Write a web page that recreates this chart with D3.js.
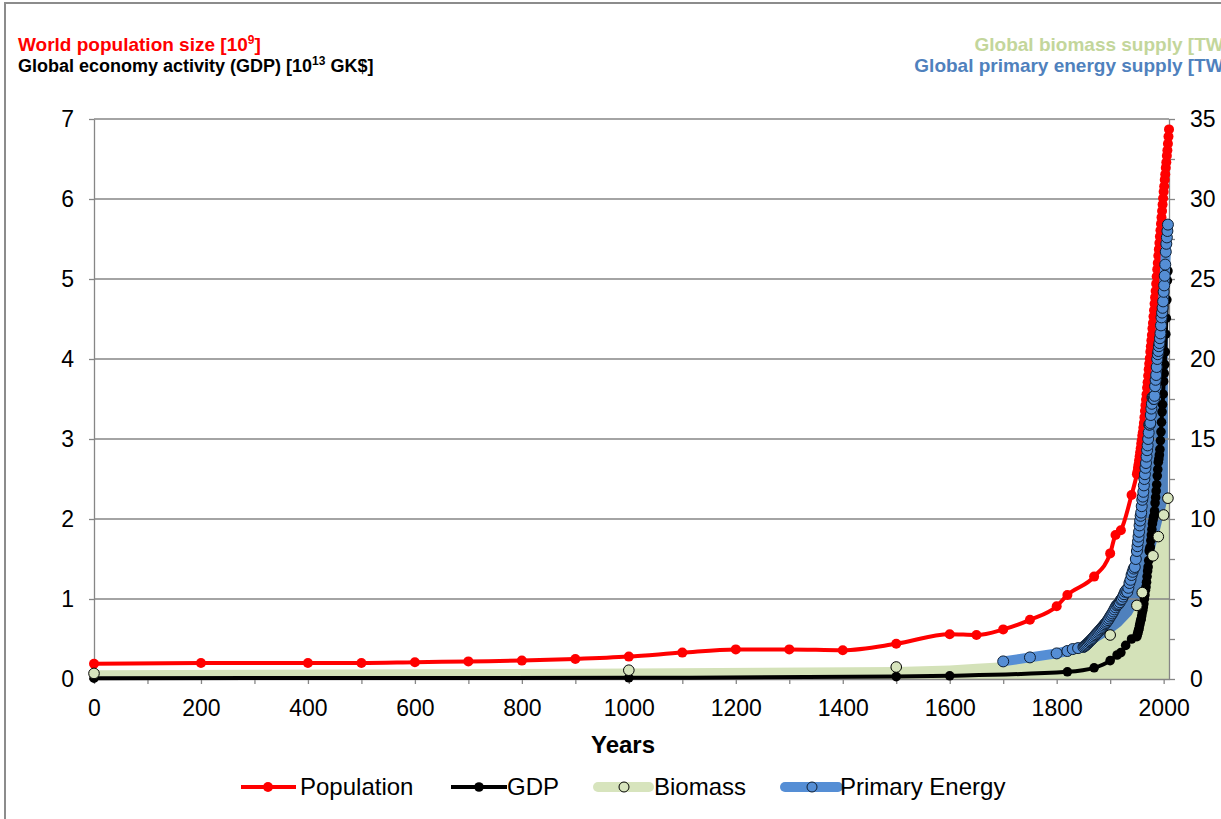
<!DOCTYPE html>
<html>
<head>
<meta charset="utf-8">
<script src="https://cdn.jsdelivr.net/npm/d3@7"></script>
<style>
  body { margin: 0; background: #fff; }
  svg { display: block; font-family: "Liberation Sans", Arial, sans-serif; }
</style>
</head>
<body>
<div id="graf"></div>
<script>
// Población mundial [10^9]
const popYears = [0, 200, 400, 500, 600, 700, 800, 900, 1000, 1100, 1200, 1300, 1400, 1500, 1600, 1650, 1700, 1750, 1800, 1820, 1870, 1900, 1910, 1920, 1940,
  1950, 1951, 1952, 1953, 1954, 1955, 1956, 1957, 1958, 1959, 1960, 1961, 1962, 1963, 1964, 1965, 1966, 1967, 1968, 1969,
  1970, 1971, 1972, 1973, 1974, 1975, 1976, 1977, 1978, 1979, 1980, 1981, 1982, 1983, 1984, 1985, 1986, 1987, 1988, 1989,
  1990, 1991, 1992, 1993, 1994, 1995, 1996, 1997, 1998, 1999, 2000, 2001, 2002, 2003, 2004, 2005, 2006, 2007, 2008, 2009, 2010]
const popValues = [0.19, 0.2, 0.2, 0.2, 0.21, 0.22, 0.23, 0.25, 0.28, 0.33, 0.37, 0.37, 0.36, 0.44, 0.56, 0.55, 0.62, 0.74, 0.91, 1.05, 1.28, 1.57, 1.8, 1.86, 2.3,
  2.56, 2.59, 2.64, 2.68, 2.73, 2.78, 2.83, 2.88, 2.94, 2.98, 3.04, 3.08, 3.14, 3.2, 3.27, 3.35, 3.42, 3.49, 3.56, 3.64,
  3.71, 3.79, 3.87, 3.94, 4.01, 4.09, 4.16, 4.23, 4.3, 4.38, 4.45, 4.53, 4.61, 4.69, 4.77, 4.85, 4.94, 5.03, 5.12, 5.2,
  5.29, 5.37, 5.45, 5.53, 5.61, 5.69, 5.77, 5.85, 5.93, 6.01, 6.09, 6.16, 6.24, 6.31, 6.39, 6.46, 6.54, 6.61, 6.69, 6.78, 6.87]

// PIB mundial [10^13 GK$]
const gdpYears = [0, 1000, 1500, 1600, 1820, 1870, 1900, 1913, 1920, 1929, 1940,
  1950, 1951, 1952, 1953, 1954, 1955, 1956, 1957, 1958, 1959, 1960, 1961, 1962, 1963, 1964, 1965, 1966, 1967, 1968, 1969,
  1970, 1971, 1972, 1973, 1974, 1975, 1976, 1977, 1978, 1979, 1980, 1981, 1982, 1983, 1984, 1985, 1986, 1987, 1988, 1989,
  1990, 1991, 1992, 1993, 1994, 1995, 1996, 1997, 1998, 1999, 2000, 2001, 2002, 2003, 2004, 2005, 2006, 2007, 2008]
const gdpValues = [0.01, 0.015, 0.03, 0.04, 0.09, 0.14, 0.23, 0.3, 0.33, 0.42, 0.5,
  0.53, 0.56, 0.58, 0.61, 0.63, 0.67, 0.7, 0.73, 0.75, 0.79, 0.83, 0.86, 0.9, 0.94, 1.0, 1.05, 1.11, 1.15, 1.21, 1.28,
  1.35, 1.4, 1.48, 1.6, 1.63, 1.65, 1.73, 1.8, 1.87, 1.94, 1.98, 2.02, 2.04, 2.1, 2.2, 2.27, 2.35, 2.43, 2.54, 2.62,
  2.71, 2.75, 2.8, 2.87, 2.98, 3.09, 3.21, 3.34, 3.43, 3.56, 3.72, 3.82, 3.93, 4.09, 4.31, 4.51, 4.74, 4.98, 5.1]

// Biomasa [TW]: marcadores y borde del área
const bioYears = [0, 1000, 1500, 1900, 1950, 1960, 1980, 1990, 2000, 2008]
const bioValues = [0.35, 0.55, 0.75, 2.75, 4.6, 5.4, 7.7, 8.9, 10.25, 11.3]
const bioAreaYears = [0, 1000, 1500, 1600, 1650, 1700, 1750, 1800, 1850, 1900, 1920, 1940, 1950, 1960, 1970, 1980, 1990, 2000, 2008, 2010]
const bioAreaValues = [0.55, 0.65, 0.75, 0.85, 0.95, 1.05, 1.15, 1.35, 1.8, 2.8, 3.3, 4.0, 4.6, 5.4, 6.5, 7.7, 8.9, 10.25, 11.3, 11.4]

// Energía primaria [TW]
const energyYears = [1700, 1750, 1800, 1820, 1830, 1840,
  1850, 1852, 1854, 1856, 1858, 1860, 1862, 1864, 1866, 1868, 1870, 1872, 1874, 1876, 1878, 1880, 1882, 1884, 1886, 1888,
  1890, 1892, 1894, 1896, 1898, 1900, 1902, 1904, 1906, 1908, 1910, 1912, 1914, 1916, 1918, 1920, 1922, 1924, 1926, 1928,
  1930, 1932, 1934, 1936, 1938, 1940, 1942, 1944, 1946, 1948,
  1950, 1951, 1952, 1953, 1954, 1955, 1956, 1957, 1958, 1959, 1960, 1961, 1962, 1963, 1964, 1965, 1966, 1967, 1968, 1969,
  1970, 1971, 1972, 1973, 1974, 1975, 1976, 1977, 1978, 1979, 1980, 1981, 1982, 1983, 1984, 1985, 1986, 1987, 1988, 1989,
  1990, 1991, 1992, 1993, 1994, 1995, 1996, 1997, 1998, 1999, 2000, 2001, 2002, 2003, 2004, 2005, 2006, 2007, 2008]
const energyValues = [1.1, 1.35, 1.6, 1.75, 1.87, 1.93,
  2.0, 2.05, 2.1, 2.16, 2.22, 2.3, 2.36, 2.42, 2.5, 2.57, 2.65, 2.73, 2.8, 2.88, 2.95, 3.03, 3.1, 3.18, 3.26, 3.34,
  3.42, 3.5, 3.58, 3.68, 3.78, 3.9, 4.0, 4.1, 4.22, 4.35, 4.48, 4.6, 4.65, 4.7, 4.8, 4.95, 5.0, 5.15, 5.3, 5.45,
  5.55, 5.45, 5.7, 6.0, 6.2, 6.5, 6.7, 6.9, 7.0, 7.5,
  8.0, 8.3, 8.6, 8.9, 9.2, 9.6, 9.9, 10.2, 10.4, 10.8, 11.2, 11.4, 11.7, 12.1, 12.5, 12.8, 13.2, 13.5, 13.9, 14.3,
  14.6, 15.0, 15.4, 15.9, 15.9, 16.0, 16.5, 16.9, 17.2, 17.6, 17.6, 17.5, 17.5, 17.7, 18.3, 18.7, 19.0, 19.5, 20.0, 20.3,
  20.5, 20.8, 21.0, 21.3, 21.6, 22.1, 22.6, 22.9, 23.2, 23.6, 24.2, 24.6, 25.2, 25.9, 26.7, 27.2, 27.6, 28.0, 28.4]

// Ejes
const yearTicks = [0, 100, 200, 300, 400, 500, 600, 700, 800, 900, 1000, 1100, 1200, 1300, 1400, 1500, 1600, 1700, 1800, 1900, 2000]
const leftTicks = [0, 1, 2, 3, 4, 5, 6, 7]
const rightTicks = [0, 2.5, 5, 7.5, 10, 12.5, 15, 17.5, 20, 22.5, 25, 27.5, 30, 32.5, 35]

const draw = () => {
  const anchoTotal = 1221
  const altoTotal = 819
  const plot = { left: 94, right: 1169, top: 119, bottom: 679 }
  const gris = "#868686"

  const svg = d3.select("#graf").append("svg")
    .attr("width", anchoTotal)
    .attr("height", altoTotal)

  // Marco exterior
  svg.append("rect")
    .attr("x", 5).attr("y", 3)
    .attr("width", 1400).attr("height", 1000)
    .attr("fill", "none").attr("stroke", "#8c8c8c").attr("stroke-width", 2)

  // Escaladores
  const x = d3.scaleLinear().domain([0, 2010]).range([plot.left, plot.right])
  const yL = d3.scaleLinear().domain([0, 7]).range([plot.bottom, plot.top])
  const yR = d3.scaleLinear().domain([0, 35]).range([plot.bottom, plot.top])

  const pop = d3.zip(popYears, popValues)
  const gdp = d3.zip(gdpYears, gdpValues)
  const bio = d3.zip(bioYears, bioValues)
  const bioArea = d3.zip(bioAreaYears, bioAreaValues)
  const energy = d3.zip(energyYears, energyValues)

  // Áreas
  svg.append("path")
    .datum(energy)
    .attr("fill", "#4f81bd")
    .attr("d", d3.area().x((d) => x(d[0])).y0(yR(0)).y1((d) => yR(d[1])))
  svg.append("path")
    .datum(bioArea)
    .attr("fill", "#d4e2b9")
    .attr("d", d3.area().x((d) => x(d[0])).y0(yR(0)).y1((d) => yR(d[1])))

  // Rejilla
  svg.append("g")
    .selectAll("line")
    .data(leftTicks.filter((d) => d > 0))
    .join("line")
    .attr("x1", plot.left).attr("x2", plot.right)
    .attr("y1", (d) => yL(d)).attr("y2", (d) => yL(d))
    .attr("stroke", gris).attr("stroke-width", 1.3)

  // Ejes
  const styleAxis = (g) => {
    g.select(".domain").attr("stroke", gris).attr("stroke-width", 1.3)
    g.selectAll(".tick line").attr("stroke", gris).attr("stroke-width", 1.3)
    g.selectAll(".tick text").attr("fill", "#000").style("font-size", "23px")
  }
  svg.append("g")
    .attr("transform", `translate(0, ${plot.bottom})`)
    .call(d3.axisBottom(x).tickValues(yearTicks).tickSize(5).tickSizeOuter(0).tickPadding(16)
      .tickFormat((d) => (d % 200 === 0 ? d : "")))
    .call(styleAxis)
  svg.append("g")
    .attr("transform", `translate(${plot.left}, 0)`)
    .call(d3.axisLeft(yL).tickValues(leftTicks).tickSize(5).tickSizeOuter(0).tickPadding(15)
      .tickFormat(d3.format("d")))
    .call(styleAxis)
  svg.append("g")
    .attr("transform", `translate(${plot.right}, 0)`)
    .call(d3.axisRight(yR).tickValues(rightTicks).tickSize(6).tickSizeOuter(0).tickPadding(15)
      .tickFormat((d) => (d % 5 === 0 ? d : "")))
    .call(styleAxis)

  // Población
  svg.append("path")
    .datum(pop)
    .attr("fill", "none").attr("stroke", "#ff0000").attr("stroke-width", 4)
    .attr("stroke-linejoin", "round")
    .attr("d", d3.line().x((d) => x(d[0])).y((d) => yL(d[1])).curve(d3.curveMonotoneX))
  svg.append("g").selectAll("circle").data(pop).join("circle")
    .attr("cx", (d) => x(d[0])).attr("cy", (d) => yL(d[1])).attr("r", 5)
    .attr("fill", "#ff0000")

  // PIB
  svg.append("path")
    .datum(gdp)
    .attr("fill", "none").attr("stroke", "#000").attr("stroke-width", 4)
    .attr("stroke-linejoin", "round")
    .attr("d", d3.line().x((d) => x(d[0])).y((d) => yL(d[1])).curve(d3.curveMonotoneX))
  svg.append("g").selectAll("circle").data(gdp).join("circle")
    .attr("cx", (d) => x(d[0])).attr("cy", (d) => yL(d[1])).attr("r", 4.8)
    .attr("fill", "#000")

  // Energía primaria
  svg.append("path")
    .datum(energy)
    .attr("fill", "none").attr("stroke", "#558ed5").attr("stroke-width", 10)
    .attr("stroke-linejoin", "round").attr("stroke-linecap", "round")
    .attr("d", d3.line().x((d) => x(d[0])).y((d) => yR(d[1])))
  svg.append("g").selectAll("circle").data(energy).join("circle")
    .attr("cx", (d) => x(d[0])).attr("cy", (d) => yR(d[1])).attr("r", 5.5)
    .attr("fill", "#558ed5").attr("stroke", "#0f1f33").attr("stroke-width", 1)

  // Biomasa
  svg.append("g").selectAll("circle").data(bio).join("circle")
    .attr("cx", (d) => x(d[0])).attr("cy", (d) => yR(d[1])).attr("r", 5.3)
    .attr("fill", "#d7e4bd").attr("stroke", "#000").attr("stroke-width", 1)

  // Títulos
  const t1 = svg.append("text").attr("x", 18).attr("y", 51)
    .attr("fill", "#ff0000").style("font-size", "19px").style("font-weight", "bold")
  t1.append("tspan").text("World population size [10")
  t1.append("tspan").attr("dy", -7).style("font-size", "12px").text("9")
  t1.append("tspan").attr("dy", 7).text("]")

  const t2 = svg.append("text").attr("x", 18).attr("y", 72)
    .attr("fill", "#000").style("font-size", "18px").style("font-weight", "bold")
  t2.append("tspan").text("Global economy activity (GDP) [10")
  t2.append("tspan").attr("dy", -7).style("font-size", "12px").text("13")
  t2.append("tspan").attr("dy", 7).text(" GK$]")

  // Títulos de la derecha: cortados por el borde como en el original
  svg.append("text").attr("x", 1230).attr("y", 51).attr("text-anchor", "end")
    .attr("fill", "#c3d69b").style("font-size", "19px").style("font-weight", "bold")
    .text("Global biomass supply [TW]")
  svg.append("text").attr("x", 1230).attr("y", 72).attr("text-anchor", "end")
    .attr("fill", "#4f81bd").style("font-size", "19px").style("font-weight", "bold")
    .text("Global primary energy supply [TW]")

  svg.append("text").attr("x", 623).attr("y", 753)
    .attr("text-anchor", "middle").style("font-size", "24px").style("font-weight", "bold")
    .text("Years")

  // Leyenda
  const ly = 787
  const legend = svg.append("g")
  const item = (x1, x2, cx, tx, color, width, cap, marker, label) => {
    legend.append("line").attr("x1", x1).attr("x2", x2).attr("y1", ly).attr("y2", ly)
      .attr("stroke", color).attr("stroke-width", width).attr("stroke-linecap", cap)
    legend.append("circle").attr("cx", cx).attr("cy", ly).attr("r", marker.r)
      .attr("fill", marker.fill).attr("stroke", marker.stroke || "none").attr("stroke-width", 1)
    legend.append("text").attr("x", tx).attr("y", ly + 8).style("font-size", "24px").text(label)
  }
  item(241, 296, 268, 300, "#ff0000", 4, "butt", { r: 5, fill: "#ff0000" }, "Population")
  item(451, 507, 479, 507, "#000", 4, "butt", { r: 4.8, fill: "#000" }, "GDP")
  item(598, 649, 624, 654, "#d7e4bd", 10, "round", { r: 5, fill: "#d7e4bd", stroke: "#000" }, "Biomass")
  item(785, 838, 812, 840, "#558ed5", 10, "round", { r: 5, fill: "#558ed5", stroke: "#0f1f33" }, "Primary Energy")
}

draw()
</script>
</body>
</html>
